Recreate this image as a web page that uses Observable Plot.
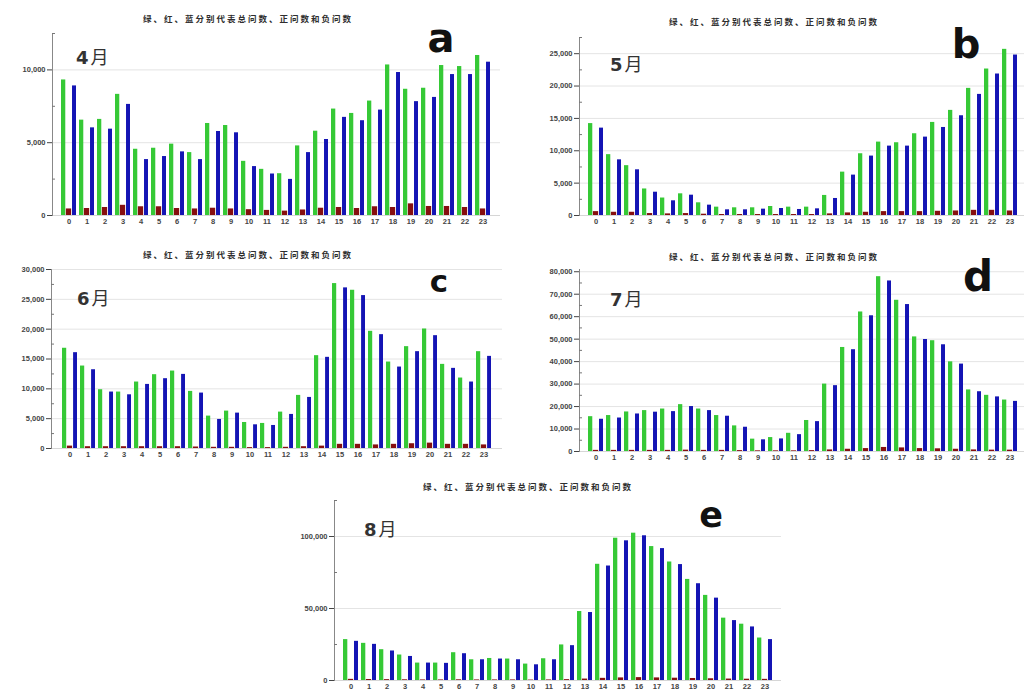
<!DOCTYPE html>
<html>
<head>
<meta charset="utf-8">
<script src="https://cdn.jsdelivr.net/npm/d3@7"></script>
<script src="https://cdn.jsdelivr.net/npm/@observablehq/plot@0.6"></script>
<style>
  html, body { margin: 0; padding: 0; background: #fff; }
  body { width: 1024px; height: 698px; overflow: hidden; position: relative; font-family: "Liberation Sans", "DejaVu Sans", sans-serif; }
  .panel { position: absolute; }
  .title { position: absolute; transform: translate(-50%, -50%); white-space: nowrap;
           font-family: "Noto Sans CJK SC", sans-serif; font-weight: bold; font-size: 8.5px;
           letter-spacing: 2px; color: #2e2e2e; }
  .month { position: absolute; white-space: nowrap; color: #333; line-height: 1; }
  .month .n { font-family: "DejaVu Sans", sans-serif; font-weight: bold; }
  .month .m { font-family: "Noto Sans CJK SC", sans-serif; font-weight: 400; margin-left: 2px; }
  .letter { position: absolute; font-family: "DejaVu Sans", sans-serif; font-weight: bold; color: #111; line-height: 1; transform: translate(-50%, 0); }
</style>
</head>
<body>
<script>
// ---------- data ----------
const hours = [0,1,2,3,4,5,6,7,8,9,10,11,12,13,14,15,16,17,18,19,20,21,22,23];
const titleText = "绿、红、蓝分别代表总问数、正问数和负问数";
const monthLabels = ["4月", "5月", "6月", "7月", "8月"];
const panelLetters = ["a", "b", "c", "d", "e"];

// April (a)
const aprTotal = [9310, 6550, 6600, 8320, 4550, 4620, 4900, 4320, 6320, 6180, 3720, 3170, 2870, 4780, 5790, 7310, 7010, 7860, 10340, 8670, 8740, 10300, 10230, 10990];
const aprPos   = [450, 480, 550, 700, 600, 600, 480, 450, 500, 450, 400, 350, 300, 380, 500, 550, 480, 600, 550, 800, 620, 620, 550, 450];
const aprNeg   = [8900, 6020, 5930, 7630, 3840, 4050, 4370, 3840, 5770, 5680, 3360, 2850, 2480, 4320, 5220, 6740, 6510, 7240, 9820, 7820, 8110, 9680, 9680, 10530];
const aprMajor = [0, 5000, 10000];
const aprMinor = [2500, 7500, 12500];

// May (b)
const mayTotal = [14200, 9400, 7700, 4100, 2700, 3350, 1960, 1290, 1190, 1190, 1390, 1290, 1290, 3100, 6700, 9540, 11340, 11240, 12630, 14380, 16240, 19640, 22630, 25670];
const mayPos   = [600, 500, 500, 300, 250, 300, 200, 150, 150, 150, 150, 150, 150, 250, 400, 500, 600, 600, 600, 650, 700, 800, 800, 700];
const mayNeg   = [13500, 8600, 7060, 3600, 2270, 3140, 1600, 880, 880, 980, 1080, 930, 1030, 2630, 6240, 9180, 10720, 10720, 12110, 13600, 15410, 18710, 21860, 24790];
const mayMajor = [0, 5000, 10000, 15000, 20000, 25000];
const mayMinor = [2500, 7500, 12500, 17500, 22500, 27500];

// June (c)
const junTotal = [16800, 13820, 9850, 9460, 11140, 12370, 12980, 9570, 5430, 6270, 4360, 4200, 6100, 8900, 15560, 27640, 26520, 19640, 14490, 17070, 20030, 14100, 11810, 16230];
const junPos   = [400, 300, 300, 300, 300, 300, 300, 250, 200, 200, 150, 150, 200, 300, 400, 700, 700, 600, 700, 800, 900, 700, 700, 600];
const junNeg   = [16060, 13200, 9460, 9000, 10740, 11700, 12420, 9290, 4870, 5930, 3970, 3860, 5710, 8560, 15280, 26920, 25630, 19080, 13650, 16230, 18910, 13430, 11140, 15440];
const junMajor = [0, 5000, 10000, 15000, 20000, 25000, 30000];
const junMinor = [2500, 7500, 12500, 17500, 22500, 27500];

// July (d)
const julTotal = [15500, 16000, 17600, 18200, 18900, 20860, 18900, 16000, 11400, 5500, 6200, 8100, 13800, 30000, 46300, 62100, 77800, 67300, 51000, 49300, 39900, 27400, 25000, 22900];
const julPos   = [500, 500, 500, 500, 500, 600, 500, 500, 400, 300, 300, 300, 400, 700, 1000, 1300, 1800, 1600, 1300, 1200, 1000, 700, 600, 600];
const julNeg   = [14350, 14900, 16700, 17500, 17750, 20000, 18200, 15700, 10800, 5200, 5600, 7500, 13300, 29300, 45300, 60400, 75900, 65400, 49850, 47500, 38900, 26600, 24300, 22300];
const julMajor = [0, 10000, 20000, 30000, 40000, 50000, 60000, 70000, 80000];
const julMinor = [5000, 15000, 25000, 35000, 45000, 55000, 65000, 75000];

// August (e)
const augTotal = [28400, 25800, 21400, 17700, 12100, 12100, 19300, 14400, 15300, 14900, 11400, 15100, 24700, 47900, 80700, 98800, 102300, 93000, 82300, 70200, 59100, 43300, 39100, 29500];
const augPos   = [800, 700, 600, 500, 400, 400, 500, 400, 400, 400, 300, 400, 600, 1000, 1500, 1800, 2000, 1800, 1600, 1400, 1200, 1000, 900, 800];
const augNeg   = [27200, 25100, 20500, 16700, 12100, 11900, 18600, 14400, 14900, 14400, 10900, 14400, 24200, 47200, 79500, 97000, 100500, 91600, 80500, 67200, 57200, 41600, 37200, 28400];
const augMajor = [0, 50000, 100000];
const augMinor = [25000, 75000, 125000];

// ---------- styles / layout ----------
const GREEN = "#36c936";
const RED = "#860f0f";
const BLUE = "#1414b4";
const P_INNER = 0.14, P_OUTER = 0.05;

const panels = [
  { total: aprTotal, pos: aprPos, neg: aprNeg, major: aprMajor, minor: aprMinor, top: 12500,
    left: 0, topPx: 0, width: 512, height: 232, mL: 52, mR: 12, mT: 33, mB: 17,
    title: [248, 18], month: [76, 47, 18], letter: [441, 18, 40] },
  { total: mayTotal, pos: mayPos, neg: mayNeg, major: mayMajor, minor: mayMinor, top: 27500,
    left: 512, topPx: 0, width: 520, height: 232, mL: 67, mR: 5, mT: 37, mB: 17,
    title: [774, 21], month: [610, 54, 18], letter: [966, 24, 40] },
  { total: junTotal, pos: junPos, neg: junNeg, major: junMajor, minor: junMinor, top: 30000,
    left: 0, topPx: 240, width: 512, height: 225, mL: 51, mR: 10, mT: 29, mB: 17,
    title: [248, 254], month: [77, 288, 18], letter: [439, 266, 31] },
  { total: julTotal, pos: julPos, neg: julNeg, major: julMajor, minor: julMinor, top: 81000,
    left: 512, topPx: 240, width: 520, height: 228, mL: 67, mR: 5, mT: 29, mB: 17,
    title: [774, 256], month: [610, 289, 18], letter: [978, 256, 42] },
  { total: augTotal, pos: augPos, neg: augNeg, major: augMajor, minor: augMinor, top: 125000,
    left: 270, topPx: 470, width: 520, height: 228, mL: 64, mR: 9, mT: 30, mB: 18,
    title: [528, 486], month: [364, 519, 18], letter: [711, 498, 35] }
];

const fmt = d3.format(",");

panels.forEach((p, i) => {
  const rows = hours.map((h, k) => ({ hour: h, total: p.total[k], pos: p.pos[k], neg: p.neg[k] }));
  const L = p.width - p.mL - p.mR;
  const step = L / (hours.length - P_INNER + 2 * P_OUTER);
  const bw = step * (1 - P_INNER);
  const third = bw / 3;

  const chart = Plot.plot({
    width: p.width, height: p.height,
    marginLeft: p.mL, marginRight: p.mR, marginTop: p.mT, marginBottom: p.mB,
    style: { fontFamily: "Liberation Sans, DejaVu Sans, sans-serif", background: "transparent", overflow: "visible" },
    x: { type: "band", domain: hours, paddingInner: P_INNER, paddingOuter: P_OUTER, label: null, axis: null },
    y: { domain: [0, p.top], label: null, axis: null },
    marks: [
      Plot.gridY(p.major.filter(d => d > 0), { stroke: "#e4e4e4", strokeOpacity: 1 }),
      Plot.barY(rows, { x: "hour", y: "total", fill: GREEN, insetRight: 2 * third }),
      Plot.barY(rows, { x: "hour", y: "neg", fill: BLUE, insetLeft: 2 * third + 0.3 }),
      Plot.barY(rows, { x: "hour", y: "pos", fill: RED, insetLeft: third - 0.5, insetRight: third - 0.5 }),
      Plot.ruleY([0], { stroke: "#bbb", strokeWidth: 0.6 }),
      Plot.frame({ anchor: "left", stroke: "#888" }),
      Plot.axisY(p.major, { tickSize: 5, tickPadding: 2, tickFormat: fmt, fontSize: 7.5, fontWeight: "bold", color: "#444", strokeWidth: 1 }),
      Plot.axisY(p.minor, { tickSize: -3, tickFormat: () => "", color: "#777" }),
      Plot.axisX({ tickSize: 0, tickPadding: 3, fontSize: 7.5, fontWeight: "bold", color: "#444" })
    ]
  });
  chart.classList.add("panel");
  chart.style.left = p.left + "px";
  chart.style.top = p.topPx + "px";
  document.body.appendChild(chart);

  const t = document.createElement("div");
  t.className = "title";
  t.textContent = titleText;
  t.style.left = p.title[0] + "px";
  t.style.top = p.title[1] + "px";
  document.body.appendChild(t);

  const m = document.createElement("div");
  m.className = "month";
  m.style.left = p.month[0] + "px";
  m.style.top = p.month[1] + "px";
  m.style.fontSize = p.month[2] + "px";
  const label = monthLabels[i];
  const n = document.createElement("span"); n.className = "n"; n.textContent = label.slice(0, -1);
  const mm = document.createElement("span"); mm.className = "m"; mm.textContent = label.slice(-1);
  m.appendChild(n); m.appendChild(mm);
  document.body.appendChild(m);

  const l = document.createElement("div");
  l.className = "letter";
  l.textContent = panelLetters[i];
  l.style.left = p.letter[0] + "px";
  l.style.top = p.letter[1] + "px";
  l.style.fontSize = p.letter[2] + "px";
  document.body.appendChild(l);
});
</script>
</body>
</html>
